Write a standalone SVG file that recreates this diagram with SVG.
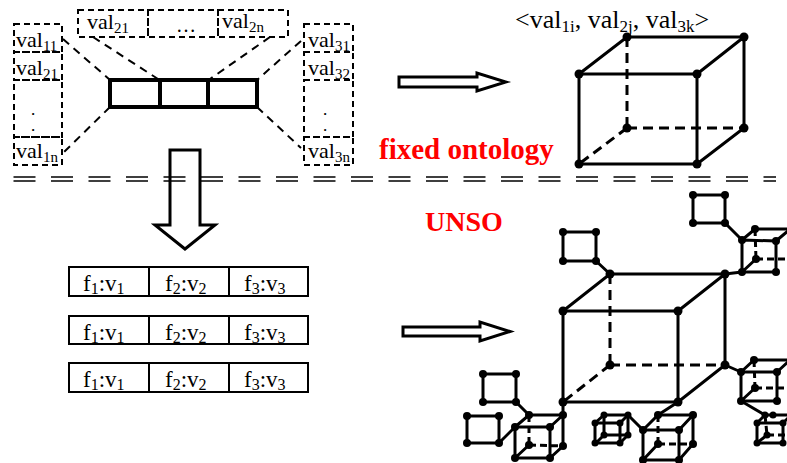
<svg xmlns="http://www.w3.org/2000/svg" width="787" height="463" viewBox="0 0 787 463">
<style>
.t{font-family:"Liberation Serif","Times New Roman",serif;fill:#000}
.dot{font-family:"Liberation Serif","Times New Roman",serif;fill:#000;font-size:13px;font-weight:bold}
.red{font-family:"Liberation Serif","Times New Roman",serif;fill:#ff0000;font-weight:bold}
.db{fill:none;stroke:#000;stroke-width:2;stroke-dasharray:6 4}
.gd{fill:none;stroke:#000;stroke-width:2;stroke-dasharray:8 6}
.bar{fill:none;stroke:#000;stroke-width:4}
.cell{fill:none;stroke:#000;stroke-width:2}
.e{fill:none;stroke:#000;stroke-width:3;stroke-linecap:round}
.h{fill:none;stroke:#000;stroke-width:3;stroke-dasharray:10 6}
.hs{fill:none;stroke:#000;stroke-width:3;stroke-dasharray:7 4}
.sep{fill:none;stroke:#000;stroke-width:1.5;stroke-dasharray:22 15.5}
.ar{fill:none;stroke:#000;stroke-width:3;stroke-linejoin:miter}
.d{fill:#000}
</style>

<g id="schema">
  <rect class="db" x="78" y="10" width="70" height="27"/>
  <rect class="db" x="148" y="10" width="70" height="27"/>
  <rect class="db" x="218" y="10" width="70" height="27"/>
  <text class="t" x="87" y="29" font-size="22">val<tspan font-size="15" dy="4">21</tspan></text>
  <text class="t" x="176" y="32" font-size="20">…</text>
  <text class="t" x="222" y="28" font-size="22">val<tspan font-size="15" dy="4">2n</tspan></text>

  <rect class="db" x="14" y="24" width="48" height="28"/>
  <rect class="db" x="14" y="52" width="48" height="28"/>
  <rect class="db" x="14" y="80" width="48" height="57"/>
  <rect class="db" x="14" y="137" width="48" height="28"/>
  <text class="t" x="16" y="47" font-size="22">val<tspan font-size="15" dy="4">11</tspan></text>
  <text class="t" x="16" y="75" font-size="22">val<tspan font-size="15" dy="4">21</tspan></text>
  <text class="dot" x="33" y="115" text-anchor="middle">.</text>
  <text class="dot" x="33" y="131" text-anchor="middle">.</text>
  <text class="t" x="16" y="158" font-size="22">val<tspan font-size="15" dy="4">1n</tspan></text>

  <rect class="db" x="304" y="24" width="49" height="28"/>
  <rect class="db" x="304" y="52" width="49" height="28"/>
  <rect class="db" x="304" y="80" width="49" height="57"/>
  <rect class="db" x="304" y="137" width="49" height="28"/>
  <text class="t" x="308" y="47" font-size="22">val<tspan font-size="15" dy="4">31</tspan></text>
  <text class="t" x="308" y="75" font-size="22">val<tspan font-size="15" dy="4">32</tspan></text>
  <text class="dot" x="325" y="115" text-anchor="middle">.</text>
  <text class="dot" x="325" y="131" text-anchor="middle">.</text>
  <text class="t" x="308" y="158" font-size="22">val<tspan font-size="15" dy="4">3n</tspan></text>

  <line class="gd" x1="63" y1="39" x2="110" y2="80"/>
  <line class="gd" x1="93" y1="37" x2="158" y2="79"/>
  <line class="gd" x1="110" y1="107" x2="63" y2="153"/>
  <line class="gd" x1="270" y1="37" x2="210" y2="79"/>
  <line class="gd" x1="301" y1="41" x2="257" y2="80"/>
  <line class="gd" x1="257" y1="107" x2="301" y2="148"/>

  <rect class="bar" x="110" y="80" width="147" height="27"/>
  <line class="bar" x1="160" y1="80" x2="160" y2="107"/>
  <line class="bar" x1="208" y1="80" x2="208" y2="107"/>
</g>

<g id="tuple-label">
  <text class="t" x="515" y="28" font-size="26">&lt;val<tspan font-size="17" dy="4">1i</tspan><tspan dy="-4">, val</tspan><tspan font-size="17" dy="4">2j</tspan><tspan dy="-4">, val</tspan><tspan font-size="17" dy="4">3k</tspan><tspan dy="-4">&gt;</tspan></text>
</g>

<g id="cube-fixed">
  <line class="h" x1="627" y1="37" x2="627" y2="128"/>
  <line class="h" x1="627" y1="128" x2="744" y2="128"/>
  <line class="h" x1="627" y1="128" x2="579" y2="164"/>
  <polygon class="e" points="579,74 697,74 697,164 579,164"/>
  <polyline class="e" points="579,74 627,37 744,37 744,128 697,164"/>
  <line class="e" x1="697" y1="74" x2="744" y2="37"/>
  <g class="d">
    <circle cx="579" cy="74" r="4.5"/><circle cx="697" cy="74" r="4.5"/>
    <circle cx="579" cy="164" r="4.5"/><circle cx="697" cy="164" r="4.5"/>
    <circle cx="627" cy="37" r="4.5"/><circle cx="744" cy="37" r="4.5"/>
    <circle cx="627" cy="128" r="4.5"/><circle cx="744" cy="128" r="4.5"/>
  </g>
</g>

<g id="label-fixed">
  <text class="red" x="379" y="159" font-size="29">fixed ontology</text>
</g>

<g id="separator">
  <line class="sep" x1="13.5" y1="177" x2="776" y2="177"/>
  <line class="sep" x1="13.5" y1="181" x2="776" y2="181"/>
</g>

<g id="label-unso">
  <text class="red" x="425" y="231" font-size="28">UNSO</text>
</g>

<g id="records">
  <rect class="cell" x="69" y="267" width="239" height="29"/>
  <line class="cell" x1="149" y1="267" x2="149" y2="296"/>
  <line class="cell" x1="229" y1="267" x2="229" y2="296"/>
  <rect class="cell" x="69" y="316" width="239" height="28"/>
  <line class="cell" x1="149" y1="316" x2="149" y2="344"/>
  <line class="cell" x1="229" y1="316" x2="229" y2="344"/>
  <rect class="cell" x="69" y="363" width="239" height="29"/>
  <line class="cell" x1="149" y1="363" x2="149" y2="392"/>
  <line class="cell" x1="229" y1="363" x2="229" y2="392"/>

  <text class="t" x="83" y="291" font-size="23">f<tspan font-size="16" dy="3">1</tspan><tspan dy="-3">:v</tspan><tspan font-size="16" dy="3">1</tspan></text>
  <text class="t" x="165" y="291" font-size="23">f<tspan font-size="16" dy="3">2</tspan><tspan dy="-3">:v</tspan><tspan font-size="16" dy="3">2</tspan></text>
  <text class="t" x="244" y="291" font-size="23">f<tspan font-size="16" dy="3">3</tspan><tspan dy="-3">:v</tspan><tspan font-size="16" dy="3">3</tspan></text>

  <text class="t" x="83" y="340" font-size="23">f<tspan font-size="16" dy="3">1</tspan><tspan dy="-3">:v</tspan><tspan font-size="16" dy="3">1</tspan></text>
  <text class="t" x="165" y="340" font-size="23">f<tspan font-size="16" dy="3">2</tspan><tspan dy="-3">:v</tspan><tspan font-size="16" dy="3">2</tspan></text>
  <text class="t" x="244" y="340" font-size="23">f<tspan font-size="16" dy="3">3</tspan><tspan dy="-3">:v</tspan><tspan font-size="16" dy="3">3</tspan></text>

  <text class="t" x="83" y="387" font-size="23">f<tspan font-size="16" dy="3">1</tspan><tspan dy="-3">:v</tspan><tspan font-size="16" dy="3">1</tspan></text>
  <text class="t" x="165" y="387" font-size="23">f<tspan font-size="16" dy="3">2</tspan><tspan dy="-3">:v</tspan><tspan font-size="16" dy="3">2</tspan></text>
  <text class="t" x="244" y="387" font-size="23">f<tspan font-size="16" dy="3">3</tspan><tspan dy="-3">:v</tspan><tspan font-size="16" dy="3">3</tspan></text>
</g>

<g id="cube-unso">
  <line class="h" x1="610" y1="274" x2="610" y2="365"/>
  <line class="h" x1="610" y1="365" x2="725" y2="365"/>
  <line class="h" x1="610" y1="365" x2="563" y2="402"/>
  <polygon class="e" points="563,311 678,311 678,402 563,402"/>
  <polyline class="e" points="563,311 610,274 725,274 725,365 678,402"/>
  <line class="e" x1="678" y1="311" x2="725" y2="274"/>
  <g class="d">
    <circle cx="563" cy="311" r="4.5"/><circle cx="678" cy="311" r="4.5"/>
    <circle cx="563" cy="402" r="4.5"/><circle cx="678" cy="402" r="4.5"/>
    <circle cx="610" cy="274" r="4.5"/><circle cx="725" cy="274" r="4.5"/>
    <circle cx="610" cy="365" r="4.5"/><circle cx="725" cy="365" r="4.5"/>
  </g>

  <g id="sq1">
    <polygon class="e" points="563,232 596,232 596,261 563,261"/>
    <line class="e" x1="596" y1="261" x2="610" y2="274"/>
    <g class="d"><circle cx="563" cy="232" r="4"/><circle cx="596" cy="232" r="4"/><circle cx="563" cy="261" r="4"/><circle cx="596" cy="261" r="4"/></g>
  </g>
  <g id="sq2">
    <polygon class="e" points="693,195 725,195 725,223 693,223"/>
    <line class="e" x1="725" y1="223" x2="742" y2="240"/>
    <g class="d"><circle cx="693" cy="195" r="4"/><circle cx="725" cy="195" r="4"/><circle cx="693" cy="223" r="4"/><circle cx="725" cy="223" r="4"/></g>
  </g>
  <g id="sq3">
    <polygon class="e" points="483,374 516,374 516,402 483,402"/>
    <line class="e" x1="516" y1="402" x2="529" y2="415"/>
    <g class="d"><circle cx="483" cy="374" r="4"/><circle cx="516" cy="374" r="4"/><circle cx="483" cy="402" r="4"/><circle cx="516" cy="402" r="4"/></g>
  </g>
  <g id="sq4">
    <polygon class="e" points="467,416 499,416 499,443 467,443"/>
    <line class="e" x1="499" y1="443" x2="515" y2="427"/>
    <g class="d"><circle cx="467" cy="416" r="4"/><circle cx="499" cy="416" r="4"/><circle cx="467" cy="443" r="4"/><circle cx="499" cy="443" r="4"/></g>
  </g>

  <g id="c1">
    <line class="hs" x1="755" y1="229" x2="756" y2="259"/>
    <line class="hs" x1="756" y1="259" x2="789" y2="259"/>
    <line class="e" x1="756" y1="259" x2="742" y2="272"/>
    <polygon class="e" points="742,240 776,241 776,272 742,272"/>
    <polyline class="e" points="742,240 755,229 790,229"/>
    <line class="e" x1="776" y1="241" x2="789" y2="230"/>
    <line class="e" x1="725" y1="274" x2="742" y2="272"/>
    <g class="d"><circle cx="742" cy="240" r="4"/><circle cx="776" cy="241" r="4"/><circle cx="742" cy="272" r="4"/><circle cx="776" cy="272" r="4"/><circle cx="755" cy="229" r="4"/><circle cx="756" cy="259" r="4"/></g>
  </g>

  <g id="c2">
    <line class="hs" x1="754" y1="360" x2="755" y2="388"/>
    <line class="hs" x1="755" y1="388" x2="789" y2="388"/>
    <line class="e" x1="755" y1="388" x2="741" y2="401"/>
    <polygon class="e" points="741,372 777,372 777,401 741,401"/>
    <polyline class="e" points="741,372 754,360 790,360"/>
    <line class="e" x1="777" y1="372" x2="789" y2="361"/>
    <line class="e" x1="725" y1="365" x2="741" y2="372"/>
    <g class="d"><circle cx="741" cy="372" r="4"/><circle cx="777" cy="372" r="4"/><circle cx="741" cy="401" r="4"/><circle cx="777" cy="401" r="4"/><circle cx="754" cy="360" r="4"/><circle cx="755" cy="388" r="4"/></g>
  </g>

  <g id="c3">
    <line class="e" x1="741" y1="401" x2="765" y2="415"/>
    <line class="hs" x1="765" y1="415" x2="767" y2="435"/>
    <line class="hs" x1="767" y1="435" x2="790" y2="435"/>
    <line class="e" x1="767" y1="435" x2="757" y2="443"/>
    <polygon class="e" points="757,423 783,423 783,443 757,443"/>
    <polyline class="e" points="757,423 765,415 790,415"/>
    <line class="e" x1="783" y1="423" x2="790" y2="416"/>
    <g class="d"><circle cx="757" cy="423" r="3.5"/><circle cx="783" cy="423" r="3.5"/><circle cx="757" cy="443" r="3.5"/><circle cx="783" cy="443" r="3.5"/><circle cx="765" cy="415" r="3.5"/><circle cx="773" cy="415" r="3.5"/><circle cx="767" cy="435" r="3.5"/></g>
  </g>

  <g id="cC">
    <line class="hs" x1="529" y1="415" x2="529" y2="445"/>
    <line class="hs" x1="529" y1="445" x2="563" y2="446"/>
    <line class="e" x1="529" y1="445" x2="515" y2="458"/>
    <polygon class="e" points="515,427 550,427 550,458 515,458"/>
    <polyline class="e" points="515,427 529,415 563,415 563,446 550,458"/>
    <line class="e" x1="550" y1="427" x2="563" y2="415"/>
    <line class="e" x1="563" y1="415" x2="563" y2="402"/>
    <g class="d"><circle cx="515" cy="427" r="4"/><circle cx="550" cy="427" r="4"/><circle cx="515" cy="458" r="4"/><circle cx="550" cy="458" r="4"/><circle cx="529" cy="415" r="4"/><circle cx="563" cy="415" r="4"/><circle cx="529" cy="445" r="4"/><circle cx="563" cy="446" r="4"/></g>
  </g>

  <g id="cD">
    <line class="e" x1="604" y1="415" x2="604" y2="435"/>
    <line class="e" x1="604" y1="435" x2="628" y2="435"/>
    <line class="e" x1="604" y1="435" x2="596" y2="443"/>
    <polygon class="e" points="595,423 620,423 620,443 595,443"/>
    <polyline class="e" points="595,423 604,415 628,415 628,435 620,443"/>
    <line class="e" x1="620" y1="423" x2="628" y2="415"/>
    <line class="e" x1="628" y1="415" x2="643" y2="430"/>
    <g class="d"><circle cx="595" cy="423" r="3.5"/><circle cx="620" cy="423" r="3.5"/><circle cx="595" cy="443" r="3.5"/><circle cx="620" cy="443" r="3.5"/><circle cx="604" cy="415" r="3.5"/><circle cx="628" cy="415" r="3.5"/><circle cx="604" cy="435" r="3.5"/><circle cx="628" cy="435" r="3.5"/></g>
  </g>

  <g id="cE">
    <line class="e" x1="678" y1="402" x2="658" y2="415"/>
    <line class="hs" x1="658" y1="415" x2="658" y2="444"/>
    <line class="hs" x1="658" y1="444" x2="693" y2="444"/>
    <line class="e" x1="658" y1="444" x2="643" y2="460"/>
    <polygon class="e" points="643,430 679,430 679,460 643,460"/>
    <polyline class="e" points="643,430 658,415 693,415 693,444 679,460"/>
    <line class="e" x1="679" y1="430" x2="693" y2="415"/>
    <g class="d"><circle cx="643" cy="430" r="4"/><circle cx="679" cy="430" r="4"/><circle cx="643" cy="460" r="4"/><circle cx="679" cy="460" r="4"/><circle cx="658" cy="415" r="4"/><circle cx="693" cy="415" r="4"/><circle cx="658" cy="444" r="4"/><circle cx="693" cy="444" r="4"/></g>
  </g>
</g>

<g id="connectors">
  <path class="ar" stroke-width="2.5" d="M399,77 H477 V73 L506,82 L477,91 V87 H399 Z"/>
  <path class="ar" d="M170,150 H200 V225 H215 L185,249 L155,225 H170 Z"/>
  <path class="ar" stroke-width="2.5" d="M403,327 H480 V322 L510,331.5 L480,341 V336 H403 Z"/>
</g>
</svg>
